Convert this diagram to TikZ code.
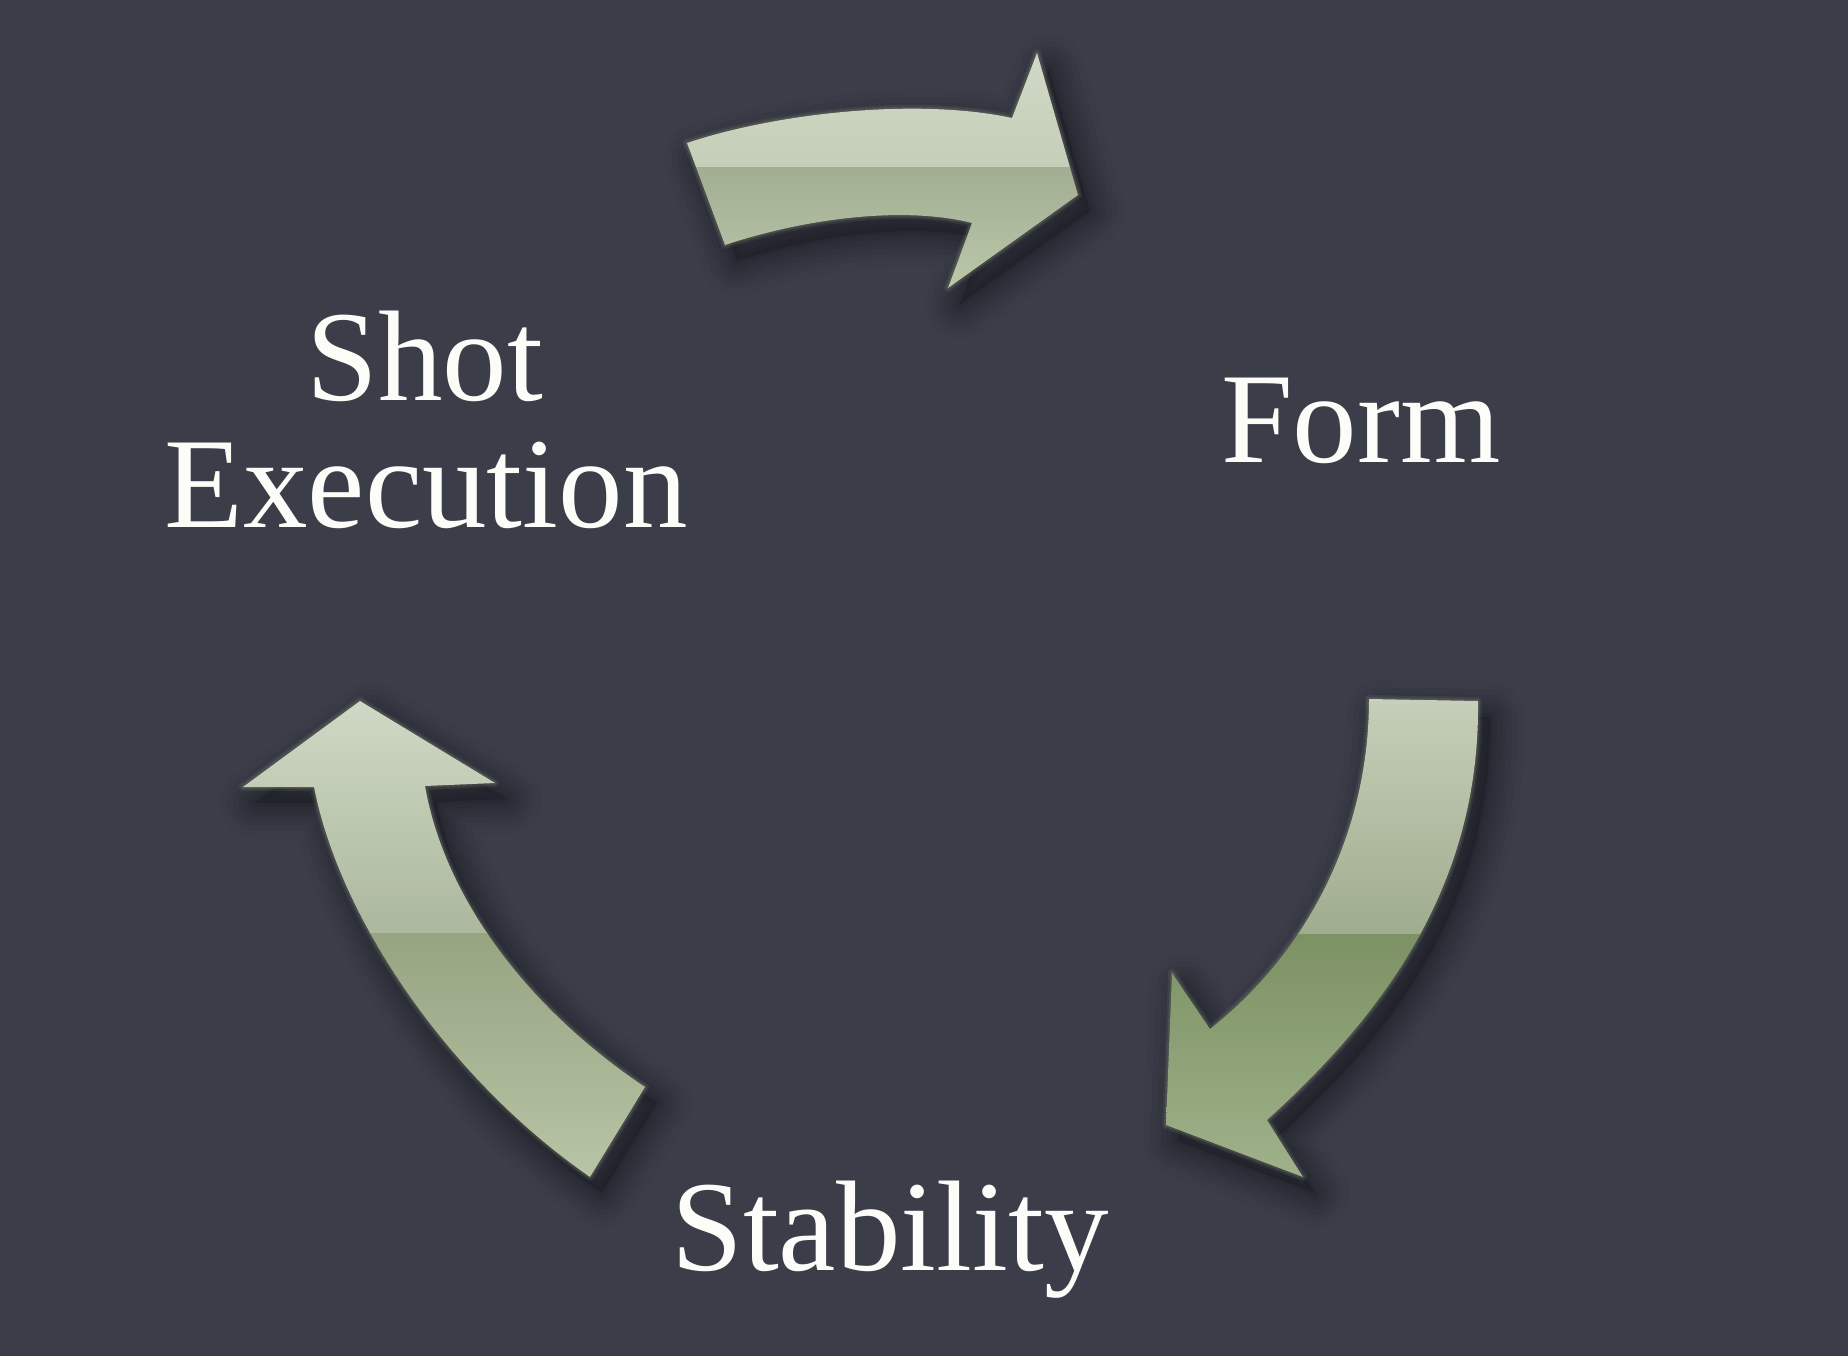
\documentclass[tikz,border=0pt]{standalone}
\usepackage{fontspec}
\setmainfont{Liberation Serif}
\definecolor{bg}{RGB}{59,61,73}
\definecolor{tA}{RGB}{207,217,197}
\definecolor{tB}{RGB}{196,206,184}
\definecolor{tC}{RGB}{162,174,146}
\definecolor{tD}{RGB}{188,200,170}
\definecolor{rA}{RGB}{198,208,186}
\definecolor{rB}{RGB}{160,172,142}
\definecolor{rC}{RGB}{124,145,100}
\definecolor{rD}{RGB}{160,178,138}
\definecolor{lA}{RGB}{207,217,197}
\definecolor{lB}{RGB}{172,184,158}
\definecolor{lC}{RGB}{150,164,130}
\definecolor{lD}{RGB}{184,197,166}
\definecolor{glowc}{RGB}{200,212,170}
\definecolor{txt}{RGB}{252,252,248}
\newcommand\ArrTopPath{(687,143) .. controls (780,112) and (920,98) .. (1012,118) -- (1037,53) -- (1078,195) -- (948,288) -- (972,223) .. controls (900,205) and (800,220) .. (725,245) -- cycle}
\newcommand\ArrRightPath{(1369,699) -- (1478,701) .. controls (1480,870) and (1400,1000) .. (1267,1120) -- (1303,1177) -- (1166,1125) -- (1172,973) -- (1210,1029) .. controls (1310,950) and (1369,830) .. (1369,699) -- cycle}
\newcommand\ArrLeftPath{(360,701) -- (495,783) -- (425,786) .. controls (445,900) and (530,1010) .. (645,1087) -- (590,1177) .. controls (450,1080) and (340,920) .. (314,787) -- (243,787) -- cycle}
\begin{document}
\begin{tikzpicture}[x=1pt,y=-1pt,
  lbl/.style={text=txt, font=\fontsize{129}{127}\selectfont, inner sep=0pt, anchor=base},
  shadowlayer/.style={black, line join=round, shift={(12,16)}},
  glowline/.style={draw=glowc, line join=round}]
\fill[bg] (0,0) rectangle (1848,1356);
\useasboundingbox (0,0) rectangle (1848,1356);
% shadows
\foreach \P in {\ArrTopPath,\ArrRightPath,\ArrLeftPath}{
  \foreach \w/\o in {70/0.03,56/0.035,44/0.04,34/0.045,24/0.05,14/0.05,6/0.05}{
    \draw[shadowlayer, line width=\w pt, opacity=\o] \P;
  }
  \fill[shadowlayer, opacity=0.15] \P;
}
% glow
\foreach \P in {\ArrTopPath,\ArrRightPath,\ArrLeftPath}{
  \draw[glowline, line width=8pt, opacity=0.08] \P;
  \draw[glowline, line width=4pt, opacity=0.12] \P;
}
% top arrow
\begin{scope}
  \clip \ArrTopPath;
  \shade[top color=tA, bottom color=tB] (680,50) rectangle (1085,168);
  \shade[top color=tC, bottom color=tD] (680,168) rectangle (1085,292);
\end{scope}
% right arrow
\begin{scope}
  \clip \ArrRightPath;
  \shade[top color=rA, bottom color=rB] (1160,695) rectangle (1485,934);
  \shade[top color=rC, bottom color=rD] (1160,934) rectangle (1485,1180);
\end{scope}
% left arrow
\begin{scope}
  \clip \ArrLeftPath;
  \shade[top color=lA, bottom color=lB] (238,698) rectangle (650,933);
  \shade[top color=lC, bottom color=lD] (238,933) rectangle (650,1180);
\end{scope}
% labels
\node[lbl] (shot) at (425,400) {Shot};
\node[lbl] (exec) at (426,527) {Execution};
\node[lbl] (form) at (1361,462) {Form};
\node[lbl] (stab) at (890,1270) {Stability};
\end{tikzpicture}
\end{document}
